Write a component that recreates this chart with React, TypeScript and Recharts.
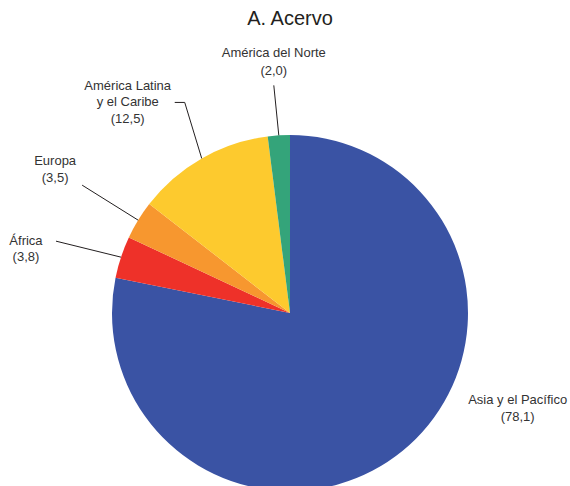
import { Cell, Pie, PieChart } from "recharts"

const regions = [
  "Asia y el Pacífico",
  "África",
  "Europa",
  "América Latina\ny el Caribe",
  "América del Norte"
]
const shares = [78.1, 3.8, 3.5, 12.5, 2.0]
const shareLabels = ["(78,1)", "(3,8)", "(3,5)", "(12,5)", "(2,0)"]

const colors = ["#3A53A4", "#EE3129", "#F7972F", "#FDCA2E", "#34A47A"]

// leader line: elbow offset from the slice's outer midpoint, optional horizontal tail,
// then text block offset from the end of the line
type LabelLayout = {
  line: boolean
  elbow: [number, number]
  tail: number
  text: [number, number]
  lineGap: number
}

const labelLayout: LabelLayout[] = [
  { line: false, elbow: [115, -51], tail: 0, text: [0, 0], lineGap: 17 },
  { line: true, elbow: [-65, -16], tail: 0, text: [-30, -1], lineGap: 16 },
  { line: true, elbow: [-56, -35], tail: 0, text: [-27, -25], lineGap: 17 },
  { line: true, elbow: [-17, -56], tail: -10, text: [-47, -17], lineGap: 16.5 },
  { line: true, elbow: [-5, -50], tail: 0, text: [0, -33], lineGap: 18 }
]

const data = regions.map((name, i) => ({
  name,
  value: shares[i],
  label: shareLabels[i]
}))

const RAD = Math.PI / 180

type LabelProps = {
  cx?: number
  cy?: number
  midAngle?: number
  outerRadius?: number
  index?: number
}

function SliceLabel({ cx = 0, cy = 0, midAngle = 0, outerRadius = 0, index = 0 }: LabelProps) {
  const layout = labelLayout[index]
  const sx = cx + outerRadius * Math.cos(-midAngle * RAD)
  const sy = cy + outerRadius * Math.sin(-midAngle * RAD)
  const ex = sx + layout.elbow[0]
  const ey = sy + layout.elbow[1]
  const tx = ex + layout.tail
  const lines = [...data[index].name.split("\n"), data[index].label]
  const textX = tx + layout.text[0]
  const textY = ey + layout.text[1]

  return (
    <g>
      {layout.line && (
        <polyline
          points={`${sx},${sy} ${ex},${ey} ${tx},${ey}`}
          fill="none"
          stroke="#231F20"
          strokeWidth={1}
        />
      )}
      <text
        x={textX}
        y={textY}
        textAnchor="middle"
        fontSize={13}
        fill="#333333"
        fontFamily="'Liberation Sans', Arial, sans-serif"
      >
        {lines.map((line, i) => (
          <tspan key={i} x={textX} y={textY + i * layout.lineGap} dominantBaseline="central">
            {line}
          </tspan>
        ))}
      </text>
    </g>
  )
}

export default function App() {
  return (
    <div style={{ position: "relative", width: 570, height: 486, background: "#ffffff" }}>
      <style>{`body { margin: 0; }`}</style>
      <div
        style={{
          position: "absolute",
          top: 7,
          left: 0,
          width: 580,
          textAlign: "center",
          fontFamily: "'Liberation Sans', Arial, sans-serif",
          fontSize: 20,
          color: "#231F20"
        }}
      >
        A. Acervo
      </div>
      <PieChart width={570} height={486} margin={{ top: 0, right: 0, bottom: 0, left: 0 }}>
        <Pie
          data={data}
          dataKey="value"
          nameKey="name"
          cx={290}
          cy={313}
          outerRadius={178}
          startAngle={90}
          endAngle={-270}
          stroke="none"
          labelLine={false}
          label={SliceLabel}
          isAnimationActive={false}
        >
          {data.map((entry, i) => (
            <Cell key={entry.name} fill={colors[i]} />
          ))}
        </Pie>
      </PieChart>
    </div>
  )
}
